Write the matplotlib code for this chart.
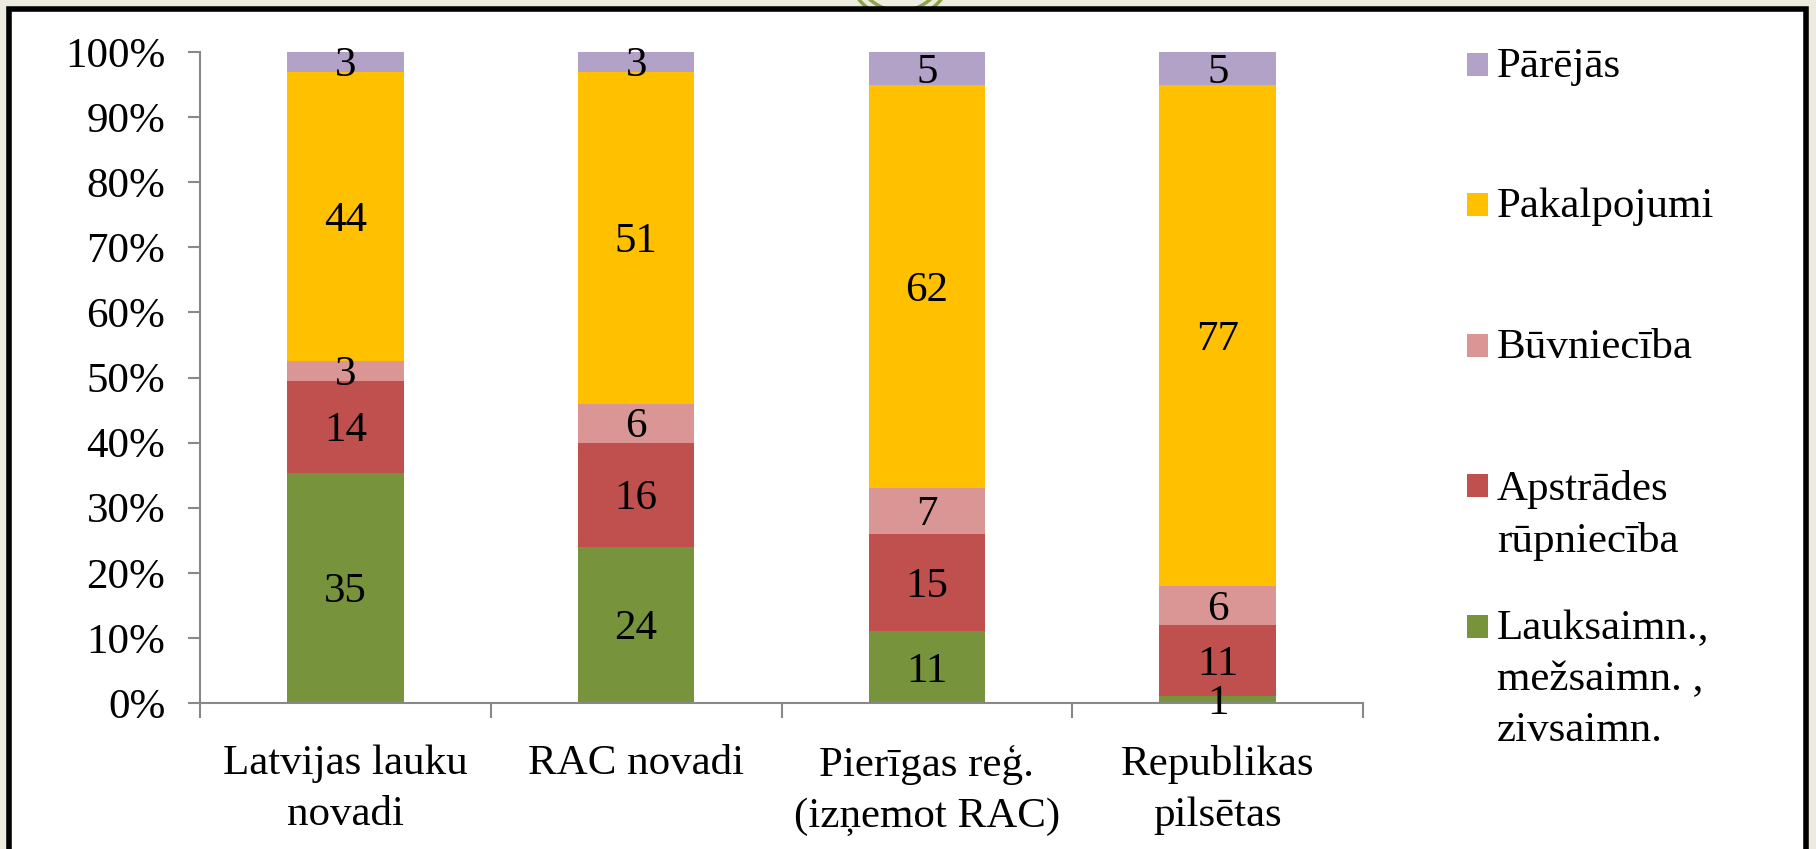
import matplotlib
matplotlib.use('Agg')
import matplotlib.pyplot as plt
import matplotlib.patches as patches
import matplotlib.ticker as ticker
import numpy as np

categories = ['Latvijas lauku\nnovadi', 'RAC novadi', 'Pierīgas reģ.\n(izņemot RAC)', 'Republikas\npilsētas']
series_names = ['Lauksaimn.,\nmežsaimn. ,\nzivsaimn.', 'Apstrādes\nrūpniecība', 'Būvniecība', 'Pakalpojumi', 'Pārējās']
lauksaimn = [35, 24, 11, 1]
apstrades = [14, 16, 15, 11]
buvnieciba = [3, 6, 7, 6]
pakalpojumi = [44, 51, 62, 77]
parejas = [3, 3, 5, 5]
colors = ['#77933C', '#C0504D', '#D99694', '#FFC000', '#B3A2C7']
yticks = [0, 10, 20, 30, 40, 50, 60, 70, 80, 90, 100]

W, H = 1816, 849
plt.rcParams['font.family'] = ['Liberation Serif', 'DejaVu Serif']
FS = 31
LS = 1.42

fig = plt.figure(figsize=(W / 100, H / 100), dpi=100)
fig.patch.set_facecolor('#EDEBE0')

def px(x, y):
    return (x / W, 1 - y / H)

# green ornament at the top (mostly hidden behind the panel)
for r in [53, 45]:
    cx, cy = px(900, -34)
    fig.patches.append(patches.Ellipse((cx, cy), 2 * r / W, 2 * r / H, transform=fig.transFigure,
                                       facecolor='none', edgecolor='#8FA448', linewidth=2.5, zorder=-3))
# white panel with black frame
x0, y0 = px(9, 9)
x1, y1 = px(1806, 870)
fig.patches.append(patches.Rectangle((x0, y1), x1 - x0, y0 - y1, transform=fig.transFigure,
                                     facecolor='white', edgecolor='black', linewidth=4, zorder=-2))

ax = fig.add_axes([200 / W, 1 - 703 / H, (1363 - 200) / W, (703 - 52) / H])
ax.set_facecolor('none')

data = [lauksaimn, apstrades, buvnieciba, pakalpojumi, parejas]
totals = np.sum(np.array(data), axis=0)
x = np.arange(len(categories))
bottom = np.zeros(len(categories))
for vals, c in zip(data, colors):
    pct = np.array(vals) / totals * 100
    ax.bar(x, pct, width=0.4, bottom=bottom, color=c, zorder=2)
    for xi, b, p, v in zip(x, bottom, pct, vals):
        ax.annotate(str(v), (xi, b + p / 2), xytext=(0, -3), textcoords='offset points',
                    ha='center', va='center', fontsize=FS, zorder=3)
    bottom += pct

ax.set_xlim(-0.5, len(categories) - 0.5)
ax.set_ylim(0, 100)
ax.set_yticks(yticks)
ax.set_yticklabels([f'{t}%' for t in yticks], fontsize=FS)
ax.xaxis.set_major_locator(ticker.FixedLocator(np.arange(len(categories) + 1) - 0.5))
ax.xaxis.set_major_formatter(ticker.NullFormatter())
ax.xaxis.set_minor_locator(ticker.FixedLocator(x))
ax.xaxis.set_minor_formatter(ticker.FixedFormatter(categories))
ax.tick_params(axis='x', which='minor', length=0, pad=30, labelsize=FS)
ax.tick_params(axis='x', which='major', length=11, color='#888888', width=1.5)
ax.tick_params(axis='y', length=9, color='#888888', width=1.5, pad=16)
for s in ['top', 'right']:
    ax.spines[s].set_visible(False)
for s in ['left', 'bottom']:
    ax.spines[s].set_color('#888888')
    ax.spines[s].set_linewidth(1.5)
for lbl in ax.xaxis.get_minorticklabels():
    lbl.set_linespacing(LS)

# legend, drawn top to bottom in reverse series order
leg_y = [64, 204, 345, 486, 626]
for name, c, yy in zip(series_names[::-1], colors[::-1], leg_y):
    rx, ry = px(1467, yy + 11.5)
    fig.patches.append(patches.Rectangle((rx, ry), 21 / W, 23 / H, transform=fig.transFigure,
                                         facecolor=c, edgecolor='none'))
    tx, ty = px(1497, yy - 16)
    fig.text(tx, ty, name, ha='left', va='top', fontsize=FS, linespacing=LS)

fig.savefig('out.png', dpi=100, facecolor=fig.get_facecolor())
